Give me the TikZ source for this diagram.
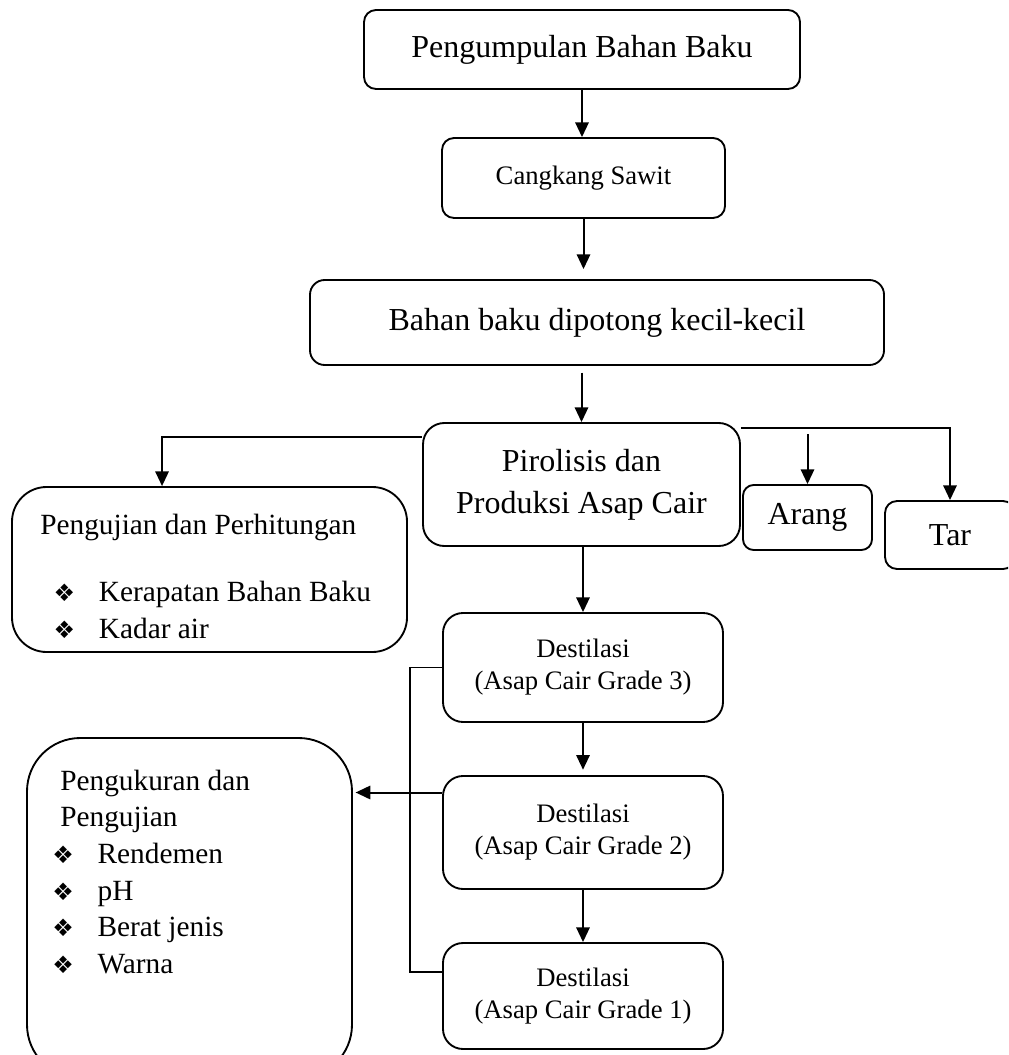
\documentclass[tikz,border=0pt]{standalone}
\usepackage{fontspec}
\setmainfont{Liberation Serif}
\newfontfamily\dejavu{DejaVu Sans}
\usetikzlibrary{arrows.meta,positioning}

\newcommand{\px}{0.75pt}
\newcommand{\bigfont}{\fontsize{24}{31.5}\selectfont}
\newcommand{\midfont}{\fontsize{22}{27.5}\selectfont}
\newcommand{\smallfont}{\fontsize{20}{24}\selectfont}
% bullet item with the diamond glyph
\newcommand{\itm}[2][10pt]{\hspace*{#1}\makebox[34pt][l]{\dejavu\fontsize{18}{18}\selectfont ❖}#2}

\begin{document}
\begin{tikzpicture}[x=0.75pt, y=-0.75pt,
  box/.style={draw, line width=1.4pt, rounded corners=#1,
              align=center, inner sep=0pt},
  box/.default=9pt,
  arr/.style={-{Triangle[width=10pt,length=11pt]}, line width=1.5pt},
  link/.style={line width=1.4pt}]

  \useasboundingbox (0,0) rectangle (1008,1055);
  \clip (0,0) rectangle (1008,1055);

  % main column
  \node[box, minimum width=436*\px, minimum height=79*\px, font=\bigfont]
    (kumpul) at (582,49.5) {Pengumpulan Bahan Baku};
  \node[box, minimum width=283*\px, minimum height=80*\px, font=\smallfont]
    (sawit) at (583.5,178) {Cangkang Sawit};
  \node[box=11pt, minimum width=574*\px, minimum height=85*\px, font=\bigfont]
    (potong) at (597,322.5) {Bahan baku dipotong kecil-kecil};
  \node[box=16pt, minimum width=317*\px, minimum height=123*\px, font=\bigfont]
    (piro) at (581.5,484.5) {Pirolisis dan\\Produksi Asap Cair};

  % side products
  \node[box=8pt, minimum width=129*\px, minimum height=65*\px, font=\bigfont]
    (arang) at (807.5,517.5) {Arang};
  \node[box=9pt, minimum width=130*\px, minimum height=68*\px, font=\bigfont]
    (tar) at (950,535) {Tar};

  % destillation steps
  \node[box=15pt, minimum width=280*\px, minimum height=109*\px, font=\smallfont]
    (d3) at (583,667.5) {Destilasi\\(Asap Cair Grade 3)};
  \node[box=15pt, minimum width=280*\px, minimum height=113*\px, font=\smallfont]
    (d2) at (583,832.5) {Destilasi\\(Asap Cair Grade 2)};
  \node[box=15pt, minimum width=280*\px, minimum height=106*\px, font=\smallfont]
    (d1) at (583,996) {Destilasi\\(Asap Cair Grade 1)};

  % test boxes
  \node[box=26pt, minimum width=395*\px, minimum height=165*\px]
    (uji) at (209.5,569.5) {};
  \node[anchor=base west, inner sep=0pt, font=\midfont] (ujitxt) at (40,534)
    {\begin{tabular}[t]{@{}l@{}}
      Pengujian dan Perhitungan\\[23pt]
      \itm{Kerapatan Bahan Baku}\\
      \itm{Kadar air}
     \end{tabular}};
  \node[box=40pt, minimum width=325*\px, minimum height=340*\px]
    (ukur) at (189.5,908) {};
  \node[anchor=base west, inner sep=0pt, font=\midfont] (ukurtxt) at (60,790)
    {\begin{tabular}[t]{@{}l@{}}
      Pengukuran dan\\
      Pengujian\\
      \itm[-6pt]{Rendemen}\\
      \itm[-6pt]{pH}\\
      \itm[-6pt]{Berat jenis}\\
      \itm[-6pt]{Warna}
     \end{tabular}};

  % arrows
  \draw[arr] (kumpul.south) -- (kumpul.south |- sawit.north);
  \draw[arr, shorten >=7.5pt] (sawit.south) -- (sawit.south |- potong.north);
  \draw[arr, shorten <=5pt] (piro.north |- potong.south) -- (piro.north);
  \draw[arr] ([yshift=-11pt]piro.north west) -| ([xshift=-35.6pt]uji.north);
  \draw[arr] ([yshift=-4.5pt]piro.north east) -| (tar.north);
  \coordinate (charfork) at (arang.north |- piro.north east);
  \draw[arr] ([yshift=-9pt]charfork) -- (arang.north);
  \draw[arr] (piro.south -| d3.north) -- (d3.north);
  \draw[arr, shorten >=4pt] (d3.south) -- (d2.north);
  \draw[arr] (d2.south) -- (d1.north);
  \draw[link] (d3.west) -- ++(-32,0) |- ([yshift=18pt]d1.west);
  \coordinate (d2out) at ([yshift=30pt]d2.west);
  \draw[arr, shorten >=2pt] (d2out) -- (d2out -| ukur.east);
\end{tikzpicture}
\end{document}
